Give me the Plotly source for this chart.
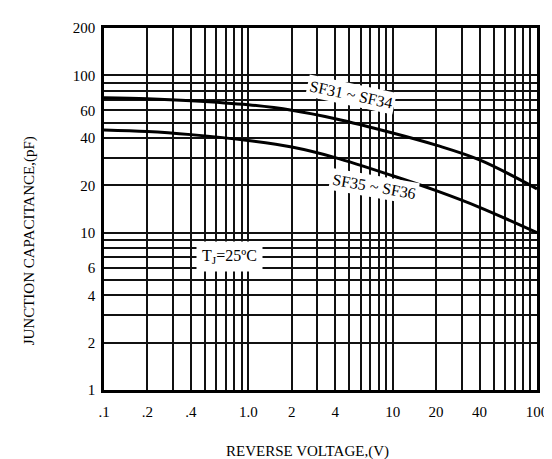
import plotly.graph_objects as go

# Data
voltage = [0.1, 0.2, 0.4, 1, 2, 4, 10, 20, 40, 100]
sf31_sf34 = [72, 71, 69, 65, 60, 53, 43, 36, 29, 19]
sf35_sf36 = [45, 44, 42, 38.5, 35, 30, 23, 18.5, 14.5, 10]

x_tick_vals = [0.1, 0.2, 0.4, 1, 2, 4, 10, 20, 40, 100]
x_tick_text = ['.1', '.2', '.4', '1.0', '2', '4', '10', '20', '40', '100']
y_tick_vals = [1, 2, 4, 6, 10, 20, 40, 60, 100, 200]
y_tick_text = ['1', '2', '4', '6', '10', '20', '40', '60', '100', '200']

# grid positions (1..9 x decade)
x_grid = [k * 10 ** d for d in (-1, 0, 1) for k in range(1, 10)] + [100]
y_grid = [k * 10 ** d for d in (0, 1) for k in range(1, 10)] + [100, 200]

def ticks(grid, vals, text):
    out = []
    for g in grid:
        lab = ''
        for v, t in zip(vals, text):
            if abs(v - g) < 1e-9:
                lab = t
        out.append(lab)
    return out

FONT = "Liberation Serif"

fig = go.Figure()
fig.add_trace(go.Scatter(x=voltage, y=sf31_sf34, mode='lines',
                         line=dict(color='black', width=3, shape='spline', smoothing=1.0),
                         name='SF31~SF34', showlegend=False))
fig.add_trace(go.Scatter(x=voltage, y=sf35_sf36, mode='lines',
                         line=dict(color='black', width=3, shape='spline', smoothing=1.0),
                         name='SF35~SF36', showlegend=False))

fig.update_layout(
    width=552, height=459,
    margin=dict(l=96, r=23, t=12, b=77),
    paper_bgcolor='white', plot_bgcolor='white',
    font=dict(family=FONT, size=15, color='black'),
    xaxis=dict(type='log', range=[-1, 2], tickmode='array', tickvals=x_grid,
               ticktext=ticks(x_grid, x_tick_vals, x_tick_text), tickangle=0,
               showgrid=True, gridcolor='#111111', gridwidth=1.7, zeroline=False,
               showline=True, linecolor='black', linewidth=2.5, mirror=True,
               ticks='', ticklabelstandoff=6, tickfont=dict(family=FONT, size=15)),
    yaxis=dict(type='log', range=[0, 2.30103], tickmode='array', tickvals=y_grid,
               ticktext=ticks(y_grid, y_tick_vals, y_tick_text),
               showgrid=True, gridcolor='#111111', gridwidth=1.7, zeroline=False,
               showline=True, linecolor='black', linewidth=2.5, mirror=True,
               ticks='', ticklabelstandoff=3, tickfont=dict(family=FONT, size=15)),
    annotations=[
        dict(text='SF31 ~ SF34', xref='paper', yref='paper', x=0.570, y=0.816, showarrow=False,
             xanchor='center', yanchor='middle', textangle=12, bgcolor='white', borderpad=2,
             font=dict(family=FONT, size=16)),
        dict(text='SF35 ~ SF36', xref='paper', yref='paper', x=0.624, y=0.562, showarrow=False,
             xanchor='center', yanchor='middle', textangle=10, bgcolor='white', borderpad=2,
             font=dict(family=FONT, size=16)),
        dict(text='T<sub>J</sub>=25ºC', xref='paper', yref='paper', x=0.289, y=0.368, showarrow=False,
             xanchor='center', yanchor='middle', bgcolor='white', borderpad=5,
             font=dict(family=FONT, size=16)),
        dict(text='JUNCTION CAPACITANCE,(pF)', xref='paper', yref='paper', x=-0.173, y=0.411,
             xanchor='center', yanchor='middle',
             showarrow=False, textangle=-90, font=dict(family=FONT, size=15)),
        dict(text='REVERSE VOLTAGE,(V)', xref='paper', yref='paper', x=0.471, y=-0.170,
             xanchor='center', yanchor='middle',
             showarrow=False, font=dict(family=FONT, size=15)),
    ],
)

fig.write_html("out.html")
